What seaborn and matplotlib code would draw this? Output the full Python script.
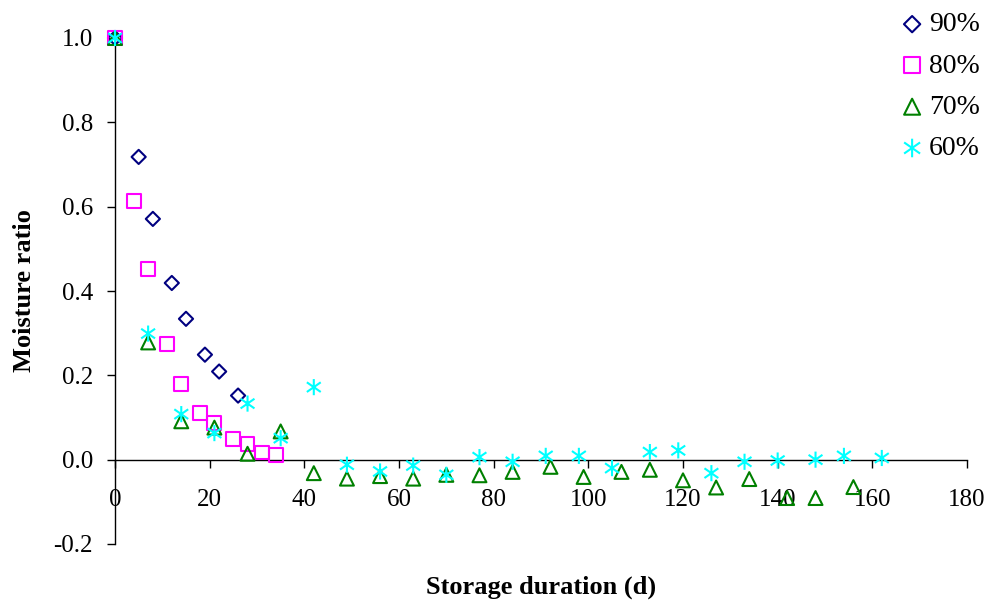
import numpy as np
import pandas as pd
import matplotlib
matplotlib.use("Agg")
import matplotlib.pyplot as plt
from matplotlib.path import Path
from matplotlib.ticker import FormatStrFormatter
import seaborn as sns

# Moisture ratio during storage at four relative humidities
days_90 = [0, 5, 8, 12, 15, 19, 22, 26]
mr_90 = [1.0, 0.718, 0.571, 0.419, 0.334, 0.249, 0.209, 0.152]

days_80 = [0, 4, 7, 11, 14, 18, 21, 25, 28, 31, 34]
mr_80 = [1.0, 0.614, 0.452, 0.275, 0.180, 0.111, 0.088, 0.049, 0.037, 0.017, 0.012]

days_70 = [0, 7, 14, 21, 28, 35, 42, 49, 56, 63, 70, 77, 84, 92, 99, 107,
           113, 120, 127, 134, 142, 148, 156]
mr_70 = [1.0, 0.278, 0.091, 0.076, 0.014, 0.067, -0.032, -0.045, -0.039,
         -0.045, -0.036, -0.037, -0.029, -0.017, -0.041, -0.029, -0.024,
         -0.049, -0.066, -0.046, -0.091, -0.091, -0.065]

days_60 = [0, 7, 14, 21, 28, 35, 42, 49, 56, 63, 70, 77, 84, 91, 98, 105,
           113, 119, 126, 133, 140, 148, 154, 162]
mr_60 = [1.0, 0.299, 0.108, 0.063, 0.133, 0.051, 0.172, -0.012, -0.028,
         -0.014, -0.036, 0.006, -0.005, 0.009, 0.009, -0.020, 0.018, 0.022,
         -0.032, -0.005, -0.002, 0.000, 0.009, 0.004]

labels = ["90%", "80%", "70%", "60%"]
x_ticks = [0, 20, 40, 60, 80, 100, 120, 140, 160, 180]
y_ticks = [-0.2, 0.0, 0.2, 0.4, 0.6, 0.8, 1.0]

sns.set_style("ticks")
plt.rcParams["font.family"] = ["Liberation Serif", "DejaVu Serif"]
plt.rcParams["axes.unicode_minus"] = False
plt.rcParams["text.color"] = "black"
plt.rcParams["axes.labelcolor"] = "black"

# asterisk marker: vertical bar plus a flattened diagonal cross
star = Path(
    [(0, -1), (0, 1), (-0.86, -0.6), (0.86, 0.6), (-0.86, 0.6), (0.86, -0.6)],
    [Path.MOVETO, Path.LINETO, Path.MOVETO, Path.LINETO, Path.MOVETO, Path.LINETO],
)

series = [
    (days_90, mr_90, "D", 52, "#000080"),
    (days_80, mr_80, "s", 100, "#FF00FF"),
    (days_70, mr_70, "^", 100, "#008000"),
    (days_60, mr_60, star, 135, "#00FFFF"),
]

fig = plt.figure(figsize=(9.92, 6.07), dpi=100)
ax = fig.add_axes([115 / 992, 1 - 544 / 607, 852 / 992, 506 / 607])

for (d, m, mk, s, c), lab in zip(series, labels):
    df = pd.DataFrame({"day": d, "mr": m})
    sns.scatterplot(data=df, x="day", y="mr", marker=mk, s=s,
                    facecolor="none", edgecolor=c, linewidth=1.5,
                    label=lab, ax=ax, clip_on=False, zorder=3)

ax.set_xlim(0, 180)
ax.set_ylim(-0.2, 1.0)
ax.set_xticks(x_ticks)
ax.set_yticks(y_ticks)
ax.yaxis.set_major_formatter(FormatStrFormatter("%.1f"))

ax.spines["top"].set_visible(False)
ax.spines["right"].set_visible(False)
ax.spines["bottom"].set_position(("data", 0))
for sp in ("left", "bottom"):
    ax.spines[sp].set_color("black")
    ax.spines[sp].set_linewidth(1.0)

ax.tick_params(axis="both", direction="out", length=6, width=1.0,
               color="black", labelsize=18, labelcolor="black")
ax.tick_params(axis="x", pad=15)
ax.tick_params(axis="y", pad=10)

ax.set_xlabel("Storage duration (d)", fontsize=19, fontweight="bold", color="black")
ax.set_ylabel("Moisture ratio", fontsize=19, fontweight="bold", color="black")
ax.xaxis.set_label_coords(0.5, -0.062)
ax.yaxis.set_label_coords(-0.093, 0.5)

ax.legend(loc="upper left", bbox_to_anchor=(901 / 992, 1 - 12 / 607),
          bbox_transform=fig.transFigure, frameon=False, fontsize=20,
          labelspacing=0.57, handlelength=0.8, handletextpad=0.2,
          borderpad=0, borderaxespad=0, markerscale=1.15,
          labelcolor="black")

fig.savefig("out.png", dpi=100)
